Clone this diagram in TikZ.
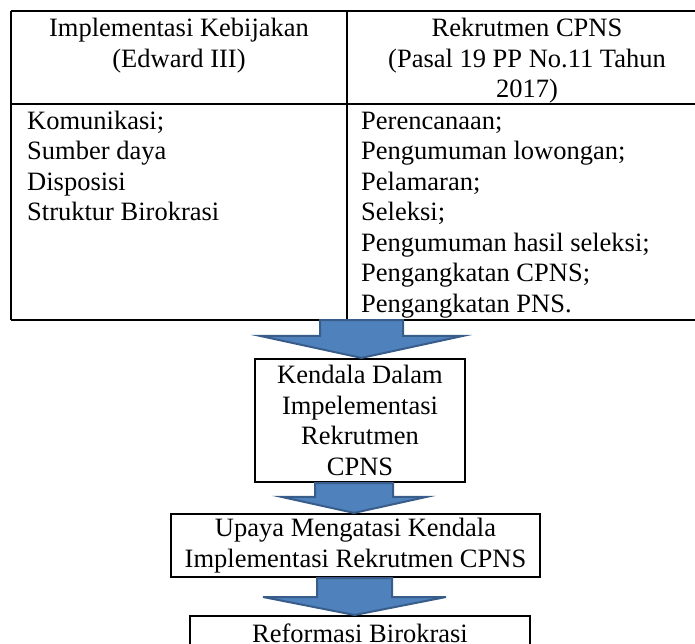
\documentclass[tikz,border=0pt]{standalone}
\usepackage{fontspec}
\setmainfont{Liberation Serif}
\usetikzlibrary{calc}
\definecolor{arrfill}{HTML}{4F81BD}
\definecolor{arrline}{HTML}{385D8A}
\tikzset{
  txt/.style={font=\fontsize{26.5}{30.5}\selectfont, inner sep=0pt},
  gridline/.style={line width=2.5pt},
  boxnode/.style={draw, line width=2.2pt, txt, align=center},
  blockarr/.style={fill=arrfill, draw=arrline, line width=2pt, line join=miter},
}
\newcommand\blockarrow[5]{%
  \draw[blockarr] ($(#1)+(-#3,0)$) -- ($(#1)+(#3,0)$) -- ($(#1 |- #2)+(#3,-#5)$)
    -- ($(#1 |- #2)+(#4,-#5)$) -- (#1 |- #2) -- ($(#1 |- #2)+(-#4,-#5)$)
    -- ($(#1 |- #2)+(-#3,-#5)$) -- cycle;}
\begin{document}
\begin{tikzpicture}[x=1pt,y=-1pt]
\useasboundingbox (0,0) rectangle (695,643);
% table
\draw[gridline] (11,11) -- (705,11);
\draw[gridline] (11,104) -- (705,104);
\draw[gridline] (11,320) -- (705,320);
\draw[gridline] (11,11) -- (11,320);
\draw[gridline] (347,11) -- (347,320);
% base anchor of a multi-line node = baseline of its last line
\node[txt, align=center, anchor=base] (h1) at (179,67.2) {Implementasi Kebijakan\\(Edward III)};
\node[txt, align=center, anchor=base] (h2) at (527,97.5) {Rekrutmen CPNS\\(Pasal 19 PP No.11 Tahun\\2017)};
\node[txt, align=left, anchor=base west] (b1) at (27,220.5) {Komunikasi;\\Sumber daya\\Disposisi\\Struktur Birokrasi};
\node[txt, align=left, anchor=base west] (b2) at (361,312) {Perencanaan;\\Pengumuman lowongan;\\Pelamaran;\\Seleksi;\\Pengumuman hasil seleksi;\\Pengangkatan CPNS;\\Pengangkatan PNS.};
% boxes
\node[boxnode, minimum width=210, minimum height=123] (k1) at (360,420.5) {Kendala Dalam\\Impelementasi\\Rekrutmen\\CPNS};
\node[boxnode, minimum width=369, minimum height=63] (u1) at (355.5,545.5) {Upaya Mengatasi Kendala\\Implementasi Rekrutmen CPNS};
\node[boxnode, anchor=north, minimum width=340, inner ysep=7.5, text depth=31] (r1) at (360,615) {Reformasi Birokrasi};
% arrows
\coordinate (tb) at (361.5,320);
\coordinate (a2s) at ($(k1.south)+(-6,0)$);
\coordinate (a3s) at ($(u1.south)+(-1,0)$);
\blockarrow{tb}{k1.north}{41.5}{101.5}{22}
\blockarrow{a2s}{u1.north}{39}{72.5}{16}
\blockarrow{a3s}{r1.north}{37.5}{91.5}{18}
\end{tikzpicture}
\end{document}
